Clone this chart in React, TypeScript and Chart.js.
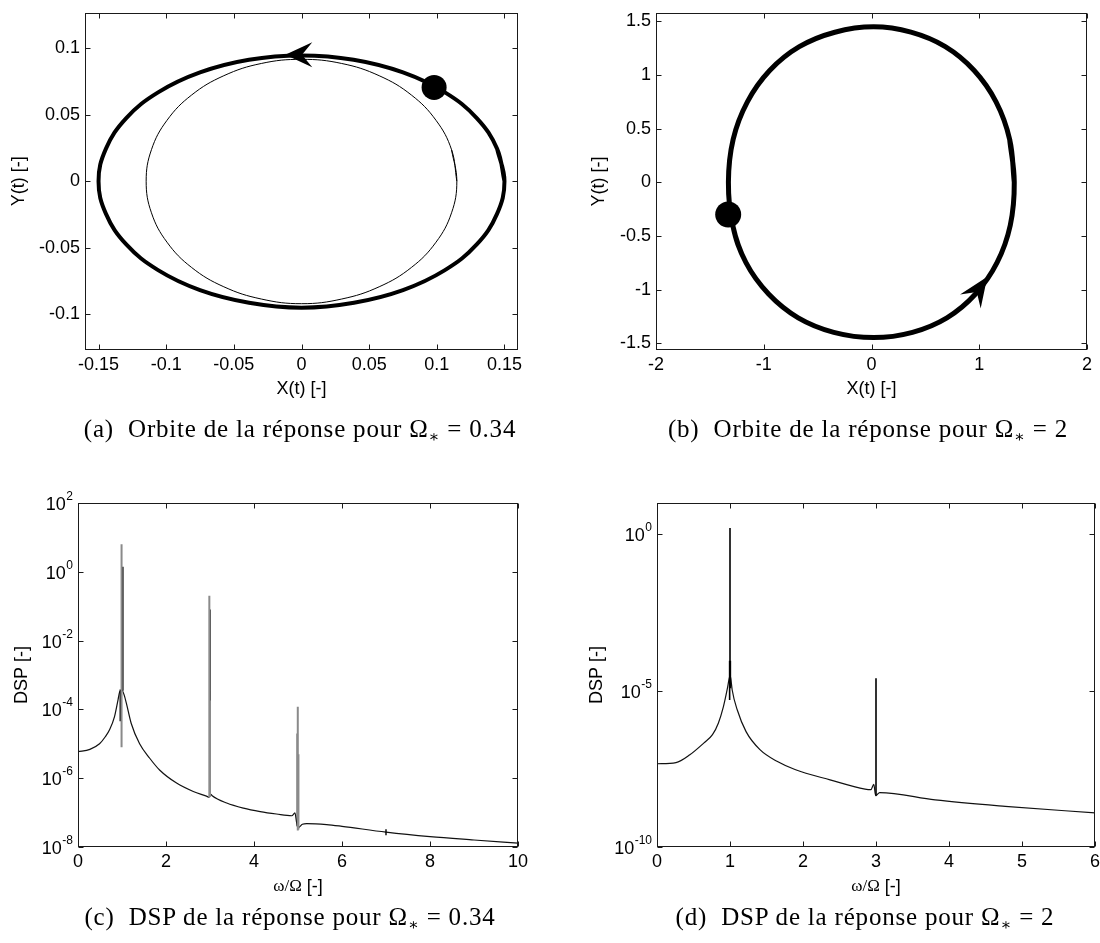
import React, { useEffect, useRef } from "react";
import { Chart, registerables } from "chart.js";
Chart.register(...registerables);

const PAGE_W = 1100;
const PAGE_H = 943;

// ---------------- (a) orbit, Omega* = 0.34 ----------------
const orbitAThickX = [0.150, 0.1445, 0.1295, 0.1060, 0.0750, 0.0385, 0.000, -0.0388, -0.0750, -0.1060, -0.1295, -0.1445, -0.150, -0.1445, -0.1295, -0.1060, -0.0750, -0.0388, 0.000, 0.0388, 0.0750, 0.1060, 0.1295, 0.1445, 0.150, 0.1445];
const orbitAThickY = [0.000, 0.0245, 0.0475, 0.0668, 0.0818, 0.0913, 0.0945, 0.0913, 0.0818, 0.0668, 0.0475, 0.0245, 0.000, -0.0245, -0.0475, -0.0668, -0.0818, -0.0913, -0.0950, -0.0913, -0.0818, -0.0668, -0.0475, -0.0245, 0.000, 0.0245];
const orbitAThinX = [0.1148, 0.1109, 0.0994, 0.0812, 0.0574, 0.0297, 0.000, -0.0297, -0.0574, -0.0812, -0.0994, -0.1109, -0.1148, -0.1109, -0.0994, -0.0812, -0.0574, -0.0297, 0.000, 0.0297, 0.0574, 0.0812, 0.0994, 0.1109, 0.1148, 0.1109];
const orbitAThinY = [0.000, 0.0237, 0.0458, 0.0648, 0.0793, 0.0885, 0.0916, 0.0885, 0.0793, 0.0648, 0.0458, 0.0237, 0.000, -0.0237, -0.0458, -0.0648, -0.0793, -0.0885, -0.0920, -0.0885, -0.0793, -0.0648, -0.0458, -0.0237, 0.000, 0.0237];
const startA = [0.098, 0.0705];
const arrowA = [-0.012, 0.0950, -1, 0]; // tip x, tip y, direction dx, dy
const ticksAX = [-0.15, -0.1, -0.05, 0, 0.05, 0.1, 0.15];
const ticksAY = [-0.1, -0.05, 0, 0.05, 0.1];

// ---------------- (b) orbit, Omega* = 2 ----------------
const orbitBX = [1.325, 1.282, 1.156, 0.953, 0.685, 0.366, 0.02, -0.34, -0.67, -0.945, -1.152, -1.284, -1.328, -1.288, -1.165, -0.955, -0.68, -0.35, 0.02, 0.38, 0.70, 0.965, 1.165, 1.288, 1.325, 1.282];
const orbitBY = [0.000, 0.400, 0.749, 1.041, 1.263, 1.398, 1.448, 1.398, 1.263, 1.041, 0.749, 0.400, 0.000, -0.400, -0.749, -1.041, -1.263, -1.398, -1.447, -1.398, -1.263, -1.041, -0.749, -0.400, 0.000, 0.400];
const startB = [-1.33, -0.30];
const arrowB = [1.075, -0.88, 0.41, 0.6];
const ticksBX = [-2, -1, 0, 1, 2];
const ticksBY = [-1.5, -1, -0.5, 0, 0.5, 1, 1.5];

// ---------------- (c) DSP, Omega* = 0.34 ----------------
const dspCX = [0, 0.27, 0.49, 0.62, 0.72, 0.83, 0.91, 0.95, 1.0, 1.05, 1.10, 1.21, 1.40, 1.63, 1.86, 2.24, 2.62, 2.92, 2.98, 3.02, 3.05, 3.38, 3.76, 4.14, 4.51, 4.86, 4.93, 4.97, 5.0, 5.03, 5.1, 5.2, 5.65, 6.0, 7.0, 8.0, 9.0, 10.0];
const dspCY = [5.9e-6, 6.9e-6, 1.0e-5, 1.6e-5, 2.6e-5, 6.2e-5, 1.9e-4, 3.3e-4, 3.6e-4, 2.6e-4, 1.5e-4, 3.9e-5, 1.0e-5, 3.8e-6, 1.7e-6, 7.2e-7, 4.1e-7, 3.0e-7, 2.8e-7, 3.4e-7, 3.1e-7, 1.9e-7, 1.35e-7, 1.07e-7, 9.1e-8, 8.1e-8, 9.8e-8, 5.0e-8, 3.6e-8, 3.8e-8, 4.6e-8, 4.8e-8, 4.5e-8, 4.0e-8, 2.7e-8, 2.0e-8, 1.6e-8, 1.3e-8];
const spikesCBlackX = [0.96, 0.96, null, 1.02, 1.02, null, 3.0, 3.0, null, 4.985, 4.985, null, 7.0, 7.0];
const spikesCBlackY = [4.5e-5, 3.8e-4, null, 3.5e-4, 1.4, null, 3e-7, 0.08, null, 4e-8, 2e-5, null, 2.2e-8, 3.3e-8];
const spikesCGrayX = [0.99, 0.99, null, 2.985, 2.985, null, 3.0, 3.0, null, 4.995, 4.995, null, 5.01, 5.01];
const spikesCGrayY = [8e-6, 6.3, null, 2.8e-7, 0.2, null, 3e-7, 1.8e-4, null, 3e-8, 1.2e-4, null, 3.2e-8, 5e-6];
const ticksCX = [0, 2, 4, 6, 8, 10];
const ticksCY = [1e-8, 1e-6, 1e-4, 1e-2, 1e0, 1e2];

// ---------------- (d) DSP, Omega* = 2 ----------------
const dspDX = [0, 0.26, 0.45, 0.64, 0.76, 0.84, 0.91, 0.96, 0.99, 1.0, 1.01, 1.03, 1.10, 1.22, 1.41, 1.65, 1.89, 2.37, 2.85, 2.93, 2.97, 2.995, 3.01, 3.05, 3.81, 4.77, 6.0];
const dspDY = [4.6e-8, 5.0e-8, 8.9e-8, 2.1e-7, 3.9e-7, 9.1e-7, 3.1e-6, 1.05e-5, 2.5e-5, 3.0e-5, 2.5e-5, 1.05e-5, 2.4e-6, 4.9e-7, 1.3e-7, 5.4e-8, 3.0e-8, 1.4e-8, 7.1e-9, 6.8e-9, 1.0e-8, 4.4e-9, 4.6e-9, 5.5e-9, 3.2e-9, 2.0e-9, 1.23e-9];
const spikesDX = [0.995, 0.995, null, 1.0, 1.0, null, 1.005, 1.005, null, 3.0, 3.0];
const spikesDY = [5e-6, 9e-5, null, 2e-5, 1.6, null, 1.2e-5, 9e-5, null, 4.4e-9, 2.5e-5];
const ticksDX = [0, 1, 2, 3, 4, 5, 6];
const ticksDY = [1e-10, 1e-5, 1e0];

// ---------------- helpers ----------------
const SANS = '"Liberation Sans", Arial, sans-serif';
const SERIF = '"Liberation Serif", "DejaVu Serif", serif';
const TICK_FONT = `18px ${SANS}`;
const EXP_FONT = `12px ${SANS}`;
const TITLE_FONT = `18px ${SANS}`;

function pts(xs: (number | null)[], ys: (number | null)[]) {
  return xs.map((x, i) => ({ x: x as any, y: ys[i] as any }));
}

type Area = { l: number; t: number; r: number; b: number };
type TextPart = { text: string; font: string };
type Panel = {
  area: Area;
  xMin: number; xMax: number; yMin: number; yMax: number; yLog: boolean;
  xTicks: number[]; yTicks: number[];
  xTitle: TextPart[]; yTitle: string; yTitleX: number; xTitleY: number;
  arrows: { a: number[]; len: number; half: number }[];
  datasets: any[];
};

function framePlugin(p: Panel) {
  return {
    id: "matlabFrame",
    afterDatasetsDraw(chart: any) {
      const { ctx, chartArea: a, scales } = chart;
      const xs = scales.x, ys = scales.y;
      ctx.save();
      // arrow heads
      ctx.fillStyle = "#000";
      for (const ar of p.arrows) {
        const [x, y, dx, dy] = ar.a;
        const px = xs.getPixelForValue(x), py = ys.getPixelForValue(y);
        const qx = xs.getPixelForValue(x + dx), qy = ys.getPixelForValue(y + dy);
        let ux = qx - px, uy = qy - py;
        const n = Math.hypot(ux, uy);
        ux /= n; uy /= n;
        const nx = -uy, ny = ux;
        const bx = px - ux * ar.len, by = py - uy * ar.len;
        ctx.beginPath();
        ctx.moveTo(px, py);
        ctx.lineTo(bx + nx * ar.half, by + ny * ar.half);
        ctx.lineTo(px - ux * ar.len * 0.62, py - uy * ar.len * 0.62);
        ctx.lineTo(bx - nx * ar.half, by - ny * ar.half);
        ctx.closePath();
        ctx.fill();
      }
      // box
      ctx.strokeStyle = "#1a1a1a";
      ctx.lineWidth = 1;
      const L = Math.round(a.left) + 0.5, R = Math.round(a.right) - 0.5;
      const T = Math.round(a.top) + 0.5, B = Math.round(a.bottom) - 0.5;
      ctx.strokeRect(L, T, R - L, B - T);
      // inward ticks on all four sides
      const TL = 5;
      ctx.beginPath();
      for (const v of p.xTicks) {
        const x = Math.round(xs.getPixelForValue(v)) + 0.5;
        ctx.moveTo(x, B); ctx.lineTo(x, B - TL);
        ctx.moveTo(x, T); ctx.lineTo(x, T + TL);
      }
      for (const v of p.yTicks) {
        const y = Math.round(ys.getPixelForValue(v)) + 0.5;
        ctx.moveTo(L, y); ctx.lineTo(L + TL, y);
        ctx.moveTo(R, y); ctx.lineTo(R - TL, y);
      }
      ctx.stroke();
      // tick labels
      ctx.fillStyle = "#000";
      ctx.font = TICK_FONT;
      ctx.textAlign = "center";
      ctx.textBaseline = "top";
      for (const v of p.xTicks) {
        ctx.fillText(String(v), xs.getPixelForValue(v), a.bottom + 6);
      }
      for (const v of p.yTicks) {
        const y = ys.getPixelForValue(v);
        const xr = a.left - 5;
        if (p.yLog) {
          const e = String(Math.round(Math.log10(v)));
          ctx.font = EXP_FONT;
          const ew = ctx.measureText(e).width;
          ctx.textAlign = "left";
          ctx.textBaseline = "alphabetic";
          ctx.fillText(e, xr - ew, y - 3);
          ctx.font = TICK_FONT;
          ctx.textAlign = "right";
          ctx.textBaseline = "middle";
          ctx.fillText("10", xr - ew - 0.5, y + 2);
        } else {
          ctx.textAlign = "right";
          ctx.textBaseline = "middle";
          ctx.fillText(String(v), xr, y);
        }
      }
      // x axis title (may mix fonts)
      ctx.textBaseline = "middle";
      ctx.textAlign = "left";
      let total = 0;
      for (const part of p.xTitle) { ctx.font = part.font; total += ctx.measureText(part.text).width; }
      let cx = (a.left + a.right) / 2 - total / 2;
      for (const part of p.xTitle) {
        ctx.font = part.font;
        ctx.fillText(part.text, cx, p.xTitleY);
        cx += ctx.measureText(part.text).width;
      }
      // y axis title
      ctx.font = TITLE_FONT;
      ctx.textAlign = "center";
      ctx.translate(p.yTitleX, (a.top + a.bottom) / 2);
      ctx.rotate(-Math.PI / 2);
      ctx.fillText(p.yTitle, 0, 0);
      ctx.restore();
    },
  };
}

function axis(min: number, max: number, log: boolean) {
  return {
    type: log ? "logarithmic" : "linear",
    min, max,
    display: true,
    grid: { display: false, drawTicks: false, drawOnChartArea: false },
    border: { display: false },
    ticks: { display: false },
    title: { display: false },
  };
}

function PanelChart({ p }: { p: Panel }) {
  const ref = useRef<HTMLCanvasElement | null>(null);
  useEffect(() => {
    if (!ref.current) return;
    const chart = new Chart(ref.current, {
      type: "scatter",
      data: { datasets: p.datasets },
      options: {
        responsive: false,
        maintainAspectRatio: false,
        animation: false,
        events: [],
        layout: { padding: { left: p.area.l, top: p.area.t, right: PAGE_W - p.area.r, bottom: PAGE_H - p.area.b } },
        plugins: { legend: { display: false }, tooltip: { enabled: false } },
        scales: { x: axis(p.xMin, p.xMax, false), y: axis(p.yMin, p.yMax, p.yLog) } as any,
      },
      plugins: [framePlugin(p)],
    } as any);
    return () => chart.destroy();
  }, [p]);
  return (
    <canvas
      ref={ref}
      width={PAGE_W}
      height={PAGE_H}
      style={{ position: "absolute", left: 0, top: 0, width: PAGE_W, height: PAGE_H }}
    />
  );
}

const lineDs = (data: any[], color: string, width: number, order: number, extra: any = {}) => ({
  data, showLine: true, borderColor: color, borderWidth: width, pointRadius: 0, fill: false, order, ...extra,
});
const dotDs = (xy: number[], r: number) => ({
  data: [{ x: xy[0], y: xy[1] }], showLine: false, pointRadius: r, pointBackgroundColor: "#000", pointBorderWidth: 0, order: 0,
});

const orbitXTitle: TextPart[] = [{ text: "X(t) [-]", font: TITLE_FONT }];
const freqXTitle: TextPart[] = [
  { text: "ω/Ω", font: `17px ${SERIF}` },
  { text: " [-]", font: TITLE_FONT },
];

const panelA: Panel = {
  area: { l: 85, t: 7, r: 518, b: 350 },
  xMin: -0.16, xMax: 0.16, yMin: -0.1268, yMax: 0.1268, yLog: false,
  xTicks: ticksAX, yTicks: ticksAY,
  xTitle: orbitXTitle, yTitle: "Y(t) [-]", yTitleX: 19, xTitleY: 389,
  arrows: [{ a: arrowA, len: 27, half: 12.5 }],
  datasets: [
    lineDs(pts(orbitAThickX, orbitAThickY), "#000", 4, 2, { tension: 0.4 }),
    lineDs(pts(orbitAThinX, orbitAThinY), "#000", 1, 3, { tension: 0.4 }),
    dotDs(startA, 12.5),
  ],
};

const panelB: Panel = {
  area: { l: 656, t: 7, r: 1093, b: 350 },
  xMin: -2, xMax: 2, yMin: -1.5625, yMax: 1.577, yLog: false,
  xTicks: ticksBX, yTicks: ticksBY,
  xTitle: orbitXTitle, yTitle: "Y(t) [-]", yTitleX: 599, xTitleY: 389,
  arrows: [{ a: arrowB, len: 30, half: 12.5 }],
  datasets: [
    lineDs(pts(orbitBX, orbitBY), "#000", 5, 2, { tension: 0.4 }),
    dotDs(startB, 13),
  ],
};

const panelC: Panel = {
  area: { l: 78, t: 503, r: 518, b: 847 },
  xMin: 0, xMax: 10, yMin: 1e-8, yMax: 1e2, yLog: true,
  xTicks: ticksCX, yTicks: ticksCY,
  xTitle: freqXTitle, yTitle: "DSP [-]", yTitleX: 22, xTitleY: 887,
  arrows: [],
  datasets: [
    lineDs(pts(dspCX, dspCY), "#111", 1.2, 3, { cubicInterpolationMode: "monotone" }),
    lineDs(pts(spikesCBlackX, spikesCBlackY), "#000", 1.4, 2, { spanGaps: false }),
    lineDs(pts(spikesCGrayX, spikesCGrayY), "#8a8a8a", 2, 1, { spanGaps: false }),
  ],
};

const panelD: Panel = {
  area: { l: 657, t: 503, r: 1095, b: 847 },
  xMin: 0, xMax: 6, yMin: 1e-10, yMax: 1e1, yLog: true,
  xTicks: ticksDX, yTicks: ticksDY,
  xTitle: freqXTitle, yTitle: "DSP [-]", yTitleX: 597, xTitleY: 887,
  arrows: [],
  datasets: [
    lineDs(pts(dspDX, dspDY), "#111", 1.2, 3, { cubicInterpolationMode: "monotone" }),
    lineDs(pts(spikesDX, spikesDY), "#000", 1.6, 2, { spanGaps: false }),
  ],
};

const CAP_SIZE = 25;
const captionStyle = (cx: number, baseline: number): React.CSSProperties => ({
  position: "absolute",
  left: cx - 300,
  top: baseline - 23.4,
  width: 600,
  textAlign: "center",
  fontFamily: SERIF,
  fontSize: CAP_SIZE,
  lineHeight: "30px",
  letterSpacing: "0.8px",
  color: "#000",
  whiteSpace: "nowrap",
});

function Caption({ label, text, value, cx, baseline }: { label: string; text: string; value: string; cx: number; baseline: number }) {
  return (
    <div style={captionStyle(cx, baseline)}>
      {label}&nbsp; {text} Ω<sub style={{ fontSize: 16, verticalAlign: "-5px", lineHeight: 0 }}>∗</sub> = {value}
    </div>
  );
}

export default function App() {
  return (
    <div style={{ position: "absolute", left: 0, top: 0, width: PAGE_W, height: PAGE_H, background: "#fff", overflow: "hidden" }}>
      <PanelChart p={panelA} />
      <PanelChart p={panelB} />
      <PanelChart p={panelC} />
      <PanelChart p={panelD} />
      <Caption label="(a)" text="Orbite de la réponse pour" value="0.34" cx={300} baseline={437} />
      <Caption label="(b)" text="Orbite de la réponse pour" value="2" cx={868} baseline={437} />
      <Caption label="(c)" text="DSP de la réponse pour" value="0.34" cx={290} baseline={925} />
      <Caption label="(d)" text="DSP de la réponse pour" value="2" cx={865} baseline={925} />
    </div>
  );
}
